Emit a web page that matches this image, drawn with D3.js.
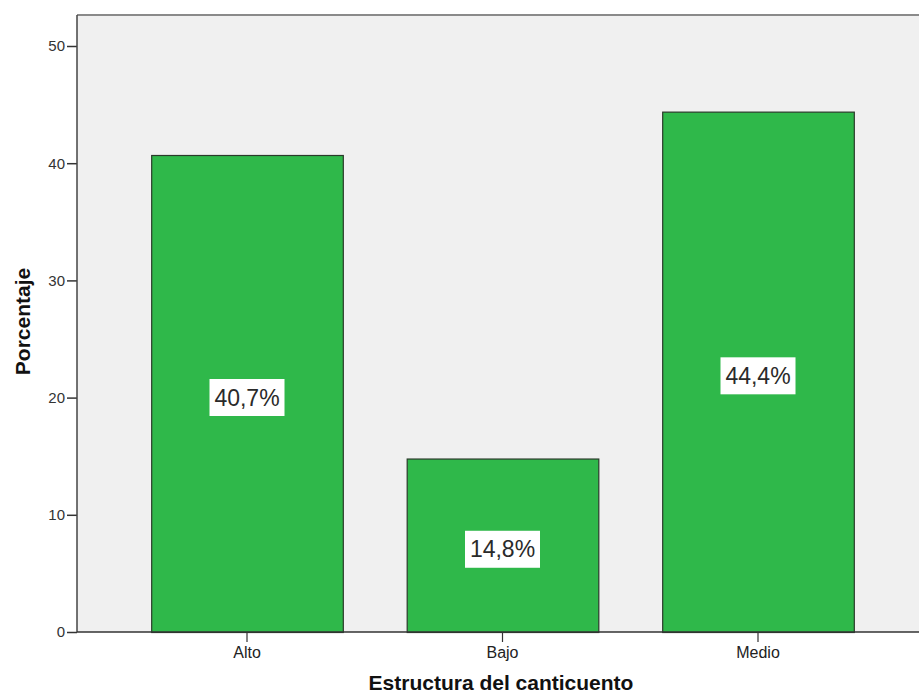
<!DOCTYPE html>
<html><head><meta charset="utf-8">
<script src="https://cdn.jsdelivr.net/npm/d3@7"></script>
<style>body{margin:0;background:#fff}svg{display:block}</style>
</head><body>
<svg id="c" width="919" height="697"></svg>
<script>
const categories = ["Alto", "Bajo", "Medio"];
const values = [40.7, 14.8, 44.4];
const labels = ["40,7%", "14,8%", "44,4%"];
const yTicks = [0, 10, 20, 30, 40, 50];

const FONT = "Liberation Sans, Arial, sans-serif";
const svg = d3.select("#c");
const plot = {left: 77, top: 15, right: 921, bottom: 632};
const y = d3.scaleLinear().domain([0, 50]).range([632, 46]);
const x = d3.scaleBand().domain(categories).range([119.25, 885.75]).paddingInner(0.25).paddingOuter(0.125);

// background
svg.append("rect").attr("x", plot.left).attr("y", plot.top)
  .attr("width", plot.right - plot.left).attr("height", plot.bottom - plot.top)
  .attr("fill", "#f0f0f0");
// top border
svg.append("line").attr("x1", plot.left).attr("x2", plot.right).attr("y1", plot.top).attr("y2", plot.top)
  .attr("stroke", "#8a8a8a").attr("stroke-width", 2);

// bars
svg.selectAll("rect.bar").data(values).enter().append("rect").attr("class", "bar")
  .attr("x", (d, i) => x(categories[i]) + 0.5)
  .attr("y", d => y(d) + 0.5)
  .attr("width", x.bandwidth())
  .attr("height", d => y(0) - y(d))
  .attr("fill", "#2fb84a").attr("stroke", "#2a3a2a").attr("stroke-width", 1.2);

// y axis
const yAxis = d3.axisLeft(y).tickValues(yTicks).tickSize(10).tickPadding(2);
const gy = svg.append("g").attr("transform", `translate(${plot.left},0)`).call(yAxis);
gy.select(".domain").remove();
gy.selectAll(".tick line").attr("stroke", "#333").attr("stroke-width", 1.5);
gy.selectAll(".tick text").attr("font-family", FONT).attr("font-size", 15).attr("fill", "#333");
svg.append("line").attr("x1", plot.left).attr("x2", plot.left).attr("y1", plot.top).attr("y2", plot.bottom)
  .attr("stroke", "#444").attr("stroke-width", 1.5);

// x axis
const xAxis = d3.axisBottom(x).tickSize(10).tickPadding(5);
const gx = svg.append("g").attr("transform", `translate(0,${plot.bottom})`).call(xAxis);
gx.select(".domain").remove();
gx.selectAll(".tick line").attr("stroke", "#333").attr("stroke-width", 1.2);
gx.selectAll(".tick text").attr("font-family", FONT).attr("font-size", 16).attr("fill", "#222");
svg.append("line").attr("x1", plot.left).attr("x2", plot.right).attr("y1", plot.bottom).attr("y2", plot.bottom)
  .attr("stroke", "#333").attr("stroke-width", 1.5);

// value labels
const lg = svg.selectAll("g.lab").data(values).enter().append("g").attr("class", "lab")
  .attr("transform", (d, i) => `translate(${x(categories[i]) + x.bandwidth() / 2},${(y(d) + y(0)) / 2 + 4})`);
lg.append("rect").attr("x", -37.5).attr("y", -18.5).attr("width", 75).attr("height", 37).attr("fill", "#fff");
lg.append("text").text((d, i) => labels[i]).attr("text-anchor", "middle").attr("dy", "0.35em")
  .attr("font-family", FONT).attr("font-size", 23).attr("fill", "#2a2a2a");

// axis titles
svg.append("text").text("Porcentaje").attr("transform", "translate(30,321.5) rotate(-90)")
  .attr("text-anchor", "middle").attr("font-family", FONT)
  .attr("font-weight", "bold").attr("font-size", 21).attr("fill", "#111");
svg.append("text").text("Estructura del canticuento").attr("x", 501).attr("y", 690)
  .attr("text-anchor", "middle").attr("font-family", FONT)
  .attr("font-weight", "bold").attr("font-size", 21).attr("fill", "#111");
</script>
</body></html>
